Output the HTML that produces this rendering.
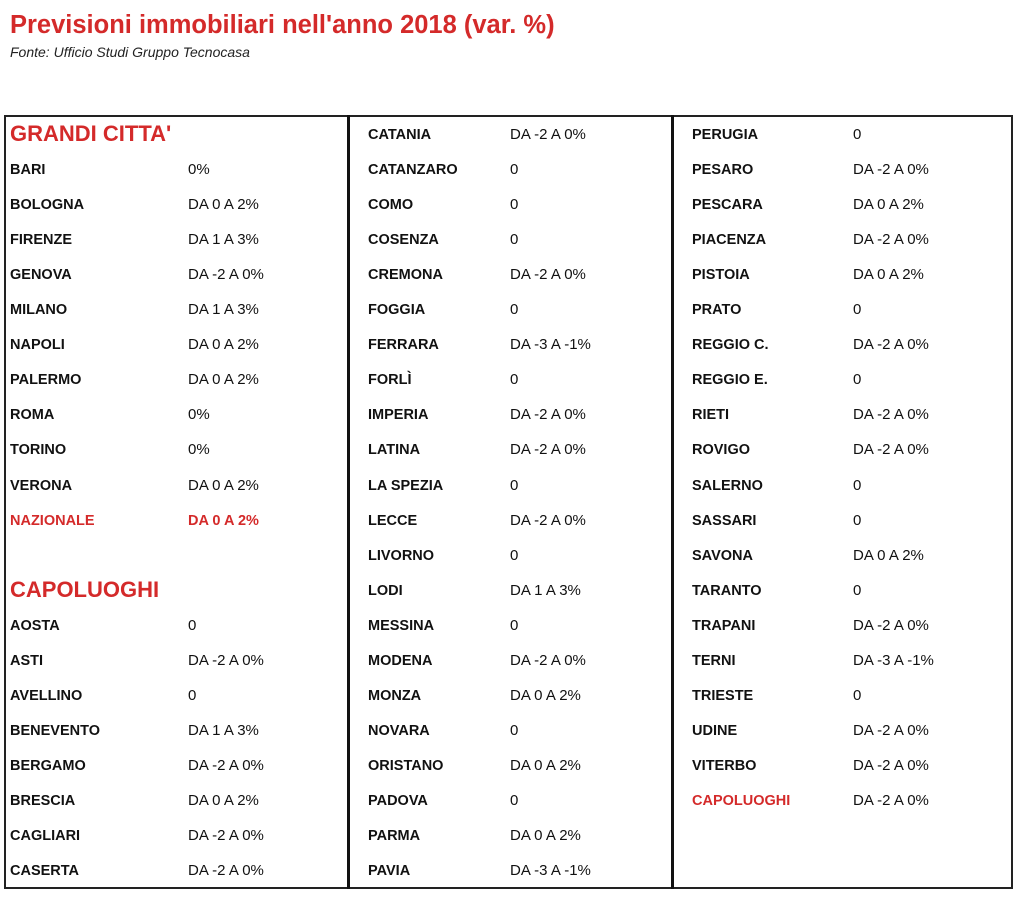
<!DOCTYPE html>
<html><head><meta charset="utf-8"><style>
body{margin:0;width:1024px;height:924px;background:#fff;position:relative;font-family:"Liberation Sans",Arial,sans-serif;overflow:hidden}
.t{position:absolute;left:10px;top:11px;font-size:25.5px;font-weight:bold;color:#d42a2a;white-space:nowrap}
.s{position:absolute;left:10px;top:44px;font-size:14px;font-style:italic;color:#222}
.tb{position:absolute;left:4px;top:115px;width:1005px;height:770px;border:2px solid #222}
.v{position:absolute;top:115px;width:3px;height:774px;background:#111}
.r{position:absolute;font-size:15px;line-height:18px;color:#111;white-space:nowrap}
.n{font-weight:bold;font-size:14.5px}
.red{color:#d42a2a}
.h{position:absolute;font-size:22px;font-weight:bold;color:#d42a2a}
</style></head><body>
<div class="t">Previsioni immobiliari nell'anno 2018 (var. %)</div>
<div class="s">Fonte: Ufficio Studi Gruppo Tecnocasa</div>
<div class="tb"></div>
<div class="v" style="left:347px"></div>
<div class="v" style="left:671px"></div>
<div id="c"></div>
<script>
const cols=[[10,188,[["@GRANDI CITTA'"],["BARI","0%"],["BOLOGNA","DA 0 A 2%"],["FIRENZE","DA 1 A 3%"],["GENOVA","DA -2 A 0%"],["MILANO","DA 1 A 3%"],["NAPOLI","DA 0 A 2%"],["PALERMO","DA 0 A 2%"],["ROMA","0%"],["TORINO","0%"],["VERONA","DA 0 A 2%"],["!NAZIONALE","!DA 0 A 2%"],[""],["@CAPOLUOGHI"],["AOSTA","0"],["ASTI","DA -2 A 0%"],["AVELLINO","0"],["BENEVENTO","DA 1 A 3%"],["BERGAMO","DA -2 A 0%"],["BRESCIA","DA 0 A 2%"],["CAGLIARI","DA -2 A 0%"],["CASERTA","DA -2 A 0%"]]],
[368,510,[["CATANIA","DA -2 A 0%"],["CATANZARO","0"],["COMO","0"],["COSENZA","0"],["CREMONA","DA -2 A 0%"],["FOGGIA","0"],["FERRARA","DA -3 A -1%"],["FORLÌ","0"],["IMPERIA","DA -2 A 0%"],["LATINA","DA -2 A 0%"],["LA SPEZIA","0"],["LECCE","DA -2 A 0%"],["LIVORNO","0"],["LODI","DA 1 A 3%"],["MESSINA","0"],["MODENA","DA -2 A 0%"],["MONZA","DA 0 A 2%"],["NOVARA","0"],["ORISTANO","DA 0 A 2%"],["PADOVA","0"],["PARMA","DA 0 A 2%"],["PAVIA","DA -3 A -1%"]]],
[692,853,[["PERUGIA","0"],["PESARO","DA -2 A 0%"],["PESCARA","DA 0 A 2%"],["PIACENZA","DA -2 A 0%"],["PISTOIA","DA 0 A 2%"],["PRATO","0"],["REGGIO C.","DA -2 A 0%"],["REGGIO E.","0"],["RIETI","DA -2 A 0%"],["ROVIGO","DA -2 A 0%"],["SALERNO","0"],["SASSARI","0"],["SAVONA","DA 0 A 2%"],["TARANTO","0"],["TRAPANI","DA -2 A 0%"],["TERNI","DA -3 A -1%"],["TRIESTE","0"],["UDINE","DA -2 A 0%"],["VITERBO","DA -2 A 0%"],["!CAPOLUOGHI","DA -2 A 0%"]]]];
let h="";
for(const [nx,vx,rows] of cols){rows.forEach((r,i)=>{const cy=135+i*35.05;
if(r[0].startsWith("@")){h+=`<div class="h" style="left:${nx}px;top:${cy-14}px">${r[0].slice(1)}</div>`;return;}
if(!r[0])return;
let n=r[0],red=n.startsWith("!");if(red)n=n.slice(1);
h+=`<div class="r n${red?' red':''}" style="left:${nx}px;top:${cy-9}px">${n}</div>`;
let v=r[1],rv=v.startsWith("!");if(rv)v=v.slice(1);
h+=`<div class="r${rv?' n red':''}" style="left:${vx}px;top:${cy-9}px">${v}</div>`;});}
document.getElementById("c").innerHTML=h;
</script>
</body></html>
